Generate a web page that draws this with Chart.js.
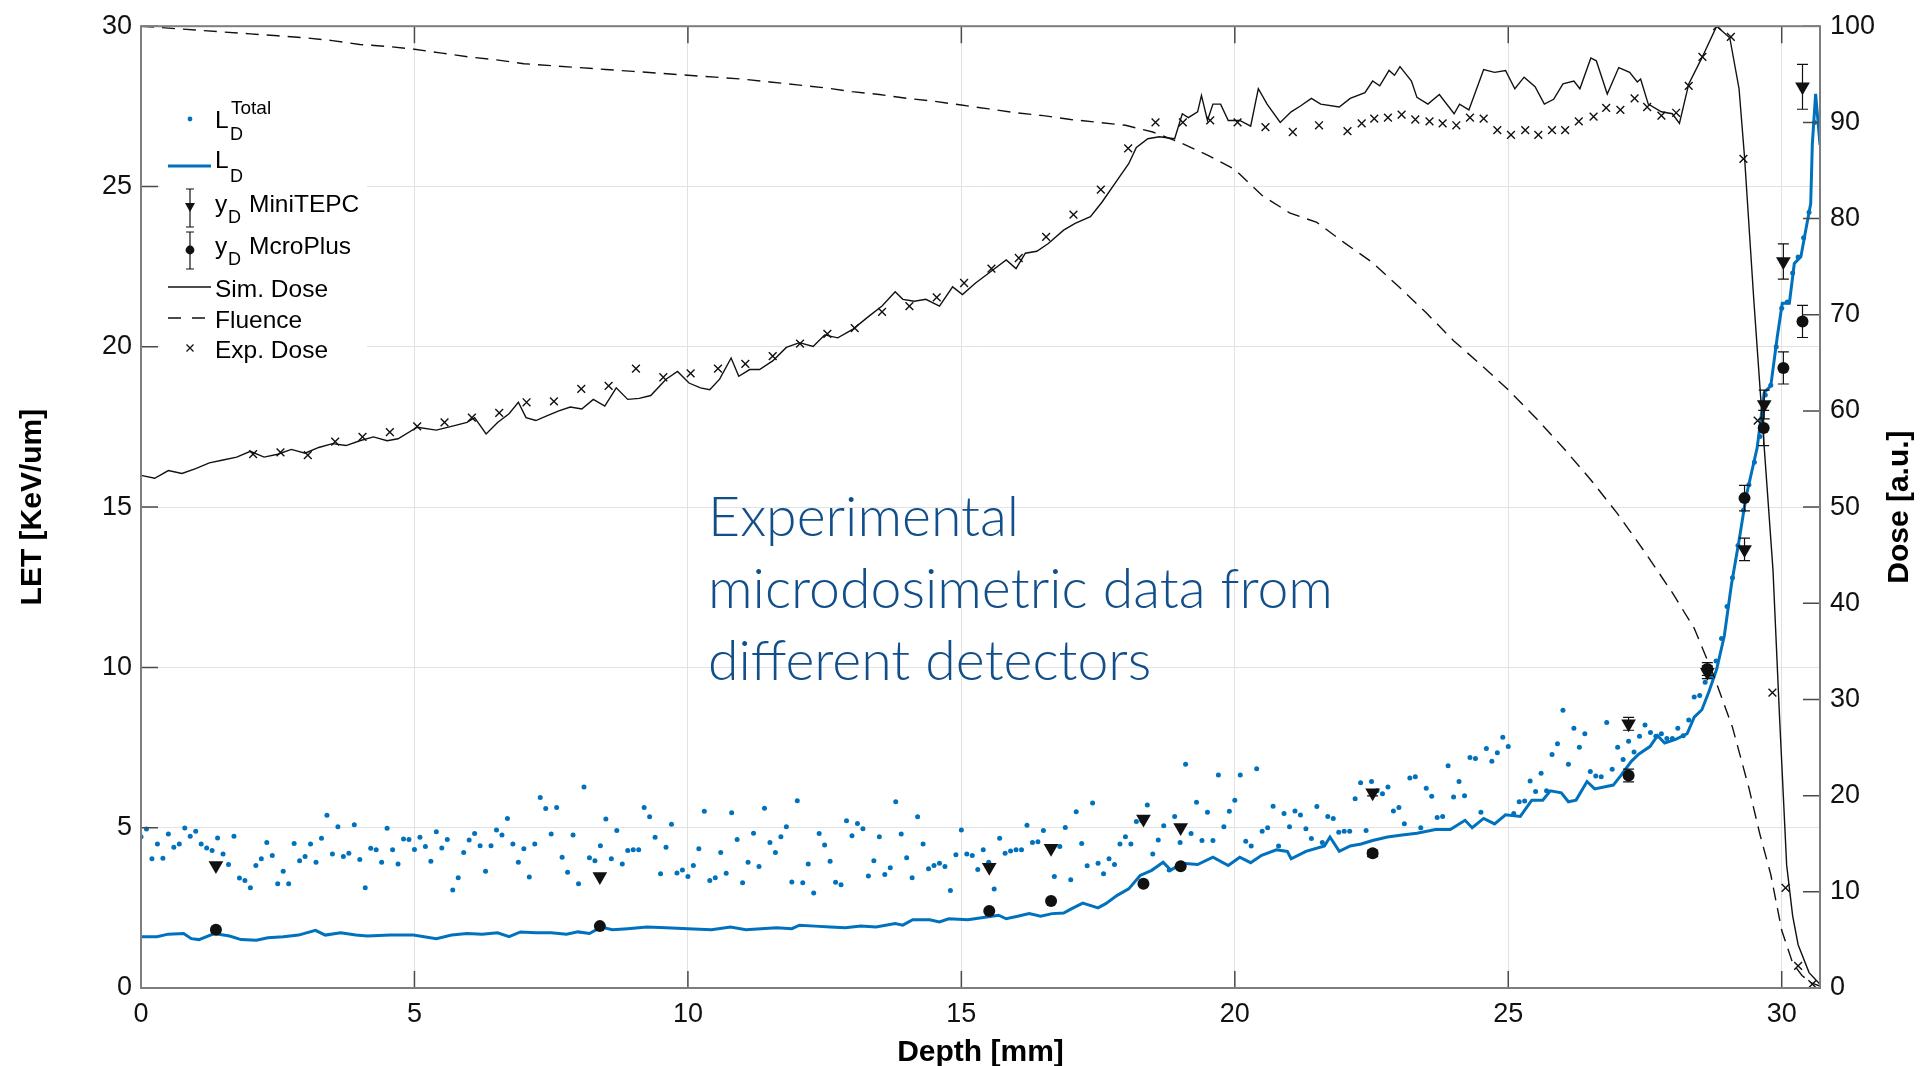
<!DOCTYPE html>
<html>
<head>
<meta charset="utf-8">
<script src="https://cdn.jsdelivr.net/npm/chart.js@4.4.1/dist/chart.umd.min.js"></script>
<style>
html,body{margin:0;padding:0;background:#fff;}
#wrap{position:relative;width:1924px;height:1066px;overflow:hidden;}
#c{position:absolute;left:0;top:0;}
#note{position:absolute;left:708px;top:479px;font-family:Lato,"Open Sans",sans-serif;font-weight:300;font-size:55.4px;line-height:72px;color:#124f8a;white-space:nowrap;}
</style>
</head>
<body>
<div id="wrap">
<canvas id="c" width="1924" height="1066" style="width:1924px;height:1066px"></canvas>
<div id="note">Experimental<br>microdosimetric data from<br>different detectors</div>
</div>
<script>
// ---------- tick labels ----------
const depthTicks = [0,5,10,15,20,25,30];
const letTicks = [0,5,10,15,20,25,30];
const doseTicks = [0,10,20,30,40,50,60,70,80,90,100];

// ---------- L_D^Total (scatter, left axis) ----------
const letTotalDepth = [
0.0,0.1,0.2,0.3,0.4,0.5,0.6,0.7,0.8,0.9,
1.0,1.1,1.2,1.3,1.4,1.5,1.6,1.7,1.8,1.9,
2.0,2.1,2.2,2.3,2.4,2.5,2.6,2.7,2.8,2.9,
3.0,3.1,3.2,3.3,3.4,3.5,3.6,3.7,3.8,3.9,
4.0,4.1,4.2,4.3,4.4,4.5,4.6,4.7,4.8,4.9,
5.0,5.1,5.2,5.3,5.4,5.5,5.6,5.7,5.8,5.9,
6.0,6.1,6.2,6.3,6.4,6.5,6.6,6.7,6.8,6.9,
7.0,7.1,7.2,7.3,7.4,7.5,7.6,7.7,7.8,7.9,
8.0,8.1,8.2,8.3,8.4,8.5,8.6,8.7,8.8,8.9,
9.0,9.1,9.2,9.3,9.4,9.5,9.6,9.7,9.8,9.9,
10.0,10.1,10.2,10.3,10.4,10.5,10.6,10.7,10.8,10.9,
11.0,11.1,11.2,11.3,11.4,11.5,11.6,11.7,11.8,11.9,
12.0,12.1,12.2,12.3,12.4,12.5,12.6,12.7,12.8,12.9,
13.0,13.1,13.2,13.3,13.4,13.5,13.6,13.7,13.8,13.9,
14.0,14.1,14.2,14.3,14.4,14.5,14.6,14.7,14.8,14.9,
15.0,15.1,15.2,15.3,15.4,15.5,15.6,15.7,15.8,15.9,
16.0,16.1,16.2,16.3,16.4,16.5,16.6,16.7,16.8,16.9,
17.0,17.1,17.2,17.3,17.4,17.5,17.6,17.7,17.8,17.9,
18.0,18.1,18.2,18.3,18.4,18.5,18.6,18.7,18.8,18.9,
19.0,19.1,19.2,19.3,19.4,19.5,19.6,19.7,19.8,19.9,
20.0,20.1,20.2,20.3,20.4,20.5,20.6,20.7,20.8,20.9,
21.0,21.1,21.2,21.3,21.4,21.5,21.6,21.7,21.8,21.9,
22.0,22.1,22.2,22.3,22.4,22.5,22.6,22.7,22.8,22.9,
23.0,23.1,23.2,23.3,23.4,23.5,23.6,23.7,23.8,23.9,
24.0,24.1,24.2,24.3,24.4,24.5,24.6,24.7,24.8,24.9,
25.0,25.1,25.2,25.3,25.4,25.5,25.6,25.7,25.8,25.9,
26.0,26.1,26.2,26.3,26.4,26.5,26.6,26.7,26.8,26.9,
27.0,27.1,27.2,27.3,27.4,27.5,27.6,27.7,27.8,27.9,
28.0,28.1,28.2,28.3,28.4,28.5,28.6,28.7,28.8,28.9,
29.0,29.1,29.2,29.3,29.4,29.5,29.6,29.7,29.8,29.9,
30.0,30.1,30.2,30.3,30.4,30.5,30.6];
const letTotal = [
4.72,4.96,4.03,4.49,4.05,4.80,4.39,4.49,4.99,4.73,
4.89,4.49,4.37,4.29,4.68,4.18,3.85,4.73,3.43,3.35,
3.13,3.82,4.03,4.54,4.13,3.25,3.64,3.25,4.51,3.97,
4.10,4.49,3.92,4.67,5.39,4.18,5.03,4.10,4.20,5.09,
4.01,3.13,4.36,4.31,3.92,4.98,4.31,3.87,4.65,4.63,
4.32,4.70,4.41,3.95,4.87,4.37,4.63,3.06,3.44,4.23,
4.62,4.82,4.44,3.64,4.44,4.93,4.77,5.29,4.49,3.92,
4.34,3.46,4.49,5.94,5.60,4.80,5.63,4.08,3.61,4.77,
3.25,6.27,4.06,3.97,4.44,5.27,4.03,4.91,3.87,4.29,
4.31,4.31,5.63,5.34,4.70,3.56,4.39,5.11,3.59,3.68,
3.48,3.82,4.34,5.51,3.35,3.44,4.23,3.58,5.47,4.63,
3.28,3.92,4.83,3.79,5.61,4.54,4.23,4.72,5.03,3.31,
5.84,3.28,3.87,2.96,4.82,4.46,3.95,3.30,3.22,5.22,
4.75,5.13,4.97,3.49,3.97,4.72,3.54,3.75,5.81,4.80,
4.06,3.44,5.34,4.49,3.72,3.82,3.89,3.79,3.04,4.16,
4.93,4.18,4.13,3.70,4.31,3.92,3.09,4.67,4.20,4.27,
4.31,4.31,5.08,4.54,4.56,4.91,4.41,3.48,4.41,5.01,
3.38,5.50,4.51,3.81,5.77,3.89,3.56,4.03,3.85,4.49,
4.72,4.49,5.19,5.22,5.71,4.18,4.62,5.06,3.68,5.35,
4.54,6.98,4.82,5.79,4.60,5.48,4.60,6.64,5.03,5.51,
5.86,6.64,4.58,4.43,6.84,4.89,5.00,5.67,4.43,5.44,
5.03,5.52,5.40,4.97,4.66,5.66,4.54,5.35,5.29,4.86,
4.89,4.89,5.90,6.40,4.91,6.44,6.15,6.06,6.27,5.52,
5.63,5.12,6.55,6.59,5.00,6.23,5.98,5.32,5.35,6.93,
5.96,6.44,6.00,7.19,7.16,5.48,7.47,7.07,7.34,7.82,
7.53,5.44,5.81,5.83,6.46,6.13,6.70,6.15,7.28,7.62,
8.66,6.98,8.10,7.51,7.93,6.75,6.61,6.59,8.28,6.82,
7.51,7.13,7.70,7.36,7.85,8.20,7.97,7.85,7.93,7.78,
7.78,8.10,7.87,8.36,9.08,9.12,9.54,9.74,10.2,10.9,
11.9,12.8,13.8,14.9,15.7,16.4,17.2,18.5,18.8,20.0,
21.2,21.4,22.3,22.8,23.4,24.2,27.0];

// ---------- L_D (line, left axis) ----------
const ldDepth = [
0,0.29,0.5,0.78,0.92,1.06,1.34,1.62,1.83,2.11,
2.32,2.6,2.88,3.19,3.37,3.65,3.93,4.14,4.56,4.98,
5.4,5.68,5.96,6.24,6.52,6.73,6.94,7.22,7.5,7.78,
7.99,8.2,8.41,8.62,8.9,9.25,9.6,10.0,10.43,10.78,
11.06,11.34,11.62,11.9,12.04,12.32,12.6,12.88,13.16,13.44,
13.79,13.93,14.11,14.42,14.6,14.77,15.12,15.4,15.68,15.82,
16.03,16.24,16.45,16.66,16.87,17.01,17.22,17.5,17.64,17.85,
18.06,18.27,18.48,18.69,18.83,19.04,19.32,19.6,19.88,20.09,
20.29,20.49,20.76,20.96,21.03,21.3,21.64,21.74,21.91,22.11,
22.31,22.52,22.79,23.06,23.33,23.67,23.94,24.21,24.34,24.55,
24.75,24.95,25.22,25.43,25.63,25.77,25.97,26.1,26.24,26.44,
26.58,26.92,27.05,27.25,27.39,27.59,27.73,27.86,28.07,28.27,
28.4,28.54,28.67,28.81,28.95,29.08,29.22,29.35,29.55,29.68,
29.8,29.92,30.01,30.14,30.23,30.35,30.44,30.53,30.56,30.62,
30.7];
const ldValue = [
1.60,1.60,1.68,1.70,1.54,1.51,1.70,1.62,1.51,1.49,
1.57,1.60,1.65,1.80,1.65,1.72,1.65,1.62,1.65,1.65,
1.54,1.65,1.70,1.68,1.72,1.60,1.75,1.72,1.72,1.68,
1.75,1.70,1.90,1.82,1.85,1.90,1.88,1.85,1.82,1.90,
1.82,1.85,1.88,1.85,1.96,1.93,1.90,1.88,1.93,1.90,
2.01,1.96,2.13,2.13,2.06,2.16,2.13,2.20,2.27,2.16,
2.24,2.32,2.24,2.32,2.34,2.47,2.65,2.50,2.63,2.89,
3.09,3.51,3.67,3.92,3.68,3.89,3.85,4.08,3.82,4.08,
3.91,4.14,4.31,4.26,4.03,4.26,4.43,4.71,4.26,4.43,
4.49,4.60,4.71,4.77,4.83,4.94,4.94,5.23,5.00,5.29,
5.12,5.40,5.35,5.86,5.86,6.15,6.09,5.81,5.86,6.44,
6.21,6.33,6.61,7.07,7.30,7.53,7.87,7.64,7.76,7.93,
8.45,8.68,9.25,9.94,10.98,12.58,13.96,15.34,16.84,18.57,
18.78,20.33,21.36,21.36,22.60,22.81,23.64,24.47,26.33,27.89,
26.30];

// ---------- y_D MiniTEPC (left axis) ----------
const tepcDepth = [1.37,8.39,15.51,16.64,18.33,19.01,22.52,27.2,28.64,29.32,29.68,30.03,30.38];
const tepcYD    = [3.82,3.48,3.77,4.36,5.27,5.01,6.09,8.24,9.85,13.68,18.2,22.66,28.11];
const tepcErr   = [0,0,0,0,0,0,0.1,0.2,0.2,0.35,0.45,0.55,0.7];

// ---------- y_D MicroPlus (left axis) ----------
const mpDepth = [1.37,8.39,15.51,16.64,18.33,19.01,22.52,27.2,28.64,29.32,29.67,30.03,30.38];
const mpYD    = [1.82,1.93,2.40,2.71,3.25,3.80,4.20,6.63,9.95,15.28,17.47,19.34,20.79];
const mpErr   = [0,0,0,0,0,0,0.1,0.2,0.2,0.4,0.55,0.5,0.5];

// ---------- Sim. Dose (right axis) ----------
const simDepth = [
0,0.25,0.5,0.75,1,1.25,1.5,1.75,2,2.25,
2.5,2.75,3,3.25,3.5,3.75,4,4.25,4.5,4.7,
5.05,5.4,5.75,5.96,6.1,6.31,6.52,6.73,6.9,7.04,
7.22,7.43,7.64,7.85,8.06,8.27,8.48,8.69,8.9,9.11,
9.32,9.6,9.81,10.02,10.23,10.4,10.58,10.79,10.93,11.13,
11.31,11.55,11.8,12.04,12.29,12.5,12.74,13.02,13.3,13.55,
13.79,13.93,14.14,14.35,14.6,14.84,15.02,15.26,15.54,15.82,
16.0,16.17,16.38,16.59,16.87,17.08,17.36,17.57,17.85,18.06,
18.2,18.41,18.62,18.9,19.04,19.15,19.32,19.39,19.5,19.6,
19.74,19.88,20.09,20.29,20.43,20.59,20.83,21.03,21.2,21.4,
21.57,21.91,22.11,22.38,22.52,22.65,22.82,22.92,23.02,23.23,
23.33,23.53,23.74,24.01,24.11,24.28,24.55,24.75,24.95,25.12,
25.29,25.49,25.66,25.83,26.0,26.2,26.31,26.51,26.61,26.81,
27.02,27.22,27.36,27.42,27.56,27.8,28.0,28.13,28.3,28.54,
28.81,29.05,29.22,29.32,29.49,29.65,29.84,29.96,30.09,30.2,
30.3,30.5,30.7];
const simDose = [
53.3,53.0,53.8,53.5,54.0,54.6,54.9,55.2,55.8,55.2,
55.5,56.0,55.6,56.2,56.6,56.4,56.9,57.3,56.9,57.1,
58.3,58.0,58.5,58.8,59.3,57.6,58.8,59.7,60.9,59.3,
59.0,59.5,60.0,60.4,60.2,61.2,60.5,62.4,61.2,61.3,
61.6,63.3,64.1,62.9,62.4,62.2,63.3,65.5,63.6,64.3,
64.3,65.2,66.6,67.1,66.7,67.9,67.6,68.5,69.8,70.9,
72.4,71.6,71.4,71.6,70.9,72.9,72.1,73.3,74.5,75.7,
74.8,76.4,76.6,77.4,78.8,79.5,80.2,81.7,84.0,85.7,
87.4,88.3,88.5,88.3,90.9,90.5,91.1,92.8,90.2,91.9,
91.9,90.2,90.2,89.6,93.5,91.9,90.0,91.1,91.7,92.5,
91.9,91.6,92.5,93.1,94.3,93.8,95.4,94.9,95.8,94.3,
92.6,91.9,92.9,90.9,91.9,91.3,95.5,95.2,95.4,93.5,
94.7,93.7,91.9,92.4,94.0,94.3,93.5,96.7,96.4,92.95,
95.7,95.2,94.2,94.5,91.9,91.1,90.9,89.9,94.0,96.7,
100,98.8,93.5,86.4,71.5,58.6,43.5,28.2,12.8,7.5,
4.5,1.6,0.4];

// ---------- Fluence (right axis) ----------
const fluDepth = [
0,0.5,1,1.5,2,2.5,3,3.5,4,4.5,
5,5.5,6,6.5,7,7.5,8,8.5,9,9.5,
10,10.5,11,11.5,12,12.5,13,13.5,14,14.5,
15,15.5,16,16.5,17,17.5,18,18.5,19,19.5,
20,20.5,21,21.5,22,22.5,23,23.5,24,24.5,
25,25.5,26,26.5,27,27.5,28,
28.4,28.75,29.1,29.4,29.6,29.8,30.0,30.2,30.37,30.55,30.7];
const fluence = [
100,99.8,99.6,99.4,99.2,99.0,98.8,98.5,98.1,97.9,
97.6,97.2,96.8,96.5,96.1,95.9,95.7,95.5,95.3,95.1,
94.9,94.7,94.5,94.2,93.9,93.6,93.2,92.9,92.5,92.2,
91.8,91.4,91.0,90.7,90.3,90.0,89.7,89.0,87.9,86.6,
85.1,82.4,80.6,79.6,77.5,75.5,72.9,70.2,67.3,64.8,
62.2,59.3,56.2,52.9,49.3,45.3,41.1,
37.4,32.6,27.1,20.8,16.0,11.8,6.0,2.6,1.3,0.5,0.2];

// ---------- Exp. Dose (right axis) ----------
const expDepth = [
2.05,2.55,3.05,3.55,4.05,4.55,5.05,5.55,6.05,6.55,
7.05,7.55,8.05,8.55,9.05,9.55,10.05,10.55,11.05,11.55,
12.05,12.55,13.05,13.55,14.05,14.55,15.05,15.55,16.05,16.55,
17.05,17.55,18.05,18.55,19.05,19.55,20.05,20.56,21.06,21.54,
22.06,22.32,22.55,22.8,23.05,23.3,23.56,23.8,24.05,24.3,
24.55,24.8,25.05,25.31,25.55,25.8,26.04,26.29,26.56,26.79,
27.05,27.31,27.54,27.8,28.07,28.3,28.55,28.82,29.07,29.3,
29.56,29.83,30.07,30.3,30.56];
const expDose = [
55.5,55.7,55.4,56.8,57.3,57.8,58.4,58.8,59.3,59.8,
60.9,61.0,62.3,62.6,64.4,63.5,63.9,64.4,64.9,65.7,
67.0,68.0,68.6,70.3,70.9,71.8,73.3,74.8,75.9,78.1,
80.4,83.0,87.3,90.0,90.0,90.2,90.0,89.5,89.0,89.7,
89.1,89.9,90.4,90.5,90.8,90.3,90.1,89.9,89.7,90.5,
90.4,89.2,88.7,89.2,88.7,89.2,89.2,90.1,90.6,91.5,
91.3,92.5,91.6,90.7,91.0,93.8,96.8,100,98.9,86.2,
59.0,30.7,10.4,2.3,0.4];

// ---------- styling ----------
const FONT = '"Liberation Sans", Arial, Helvetica, sans-serif';
const BLUE = '#0072BD';
const INK = '#111111';
Chart.defaults.font.family = FONT;

function pts(xs, ys) { return xs.map((x, i) => ({x: x, y: ys[i]})); }

const errorBars = [
  {depth: tepcDepth, val: tepcYD, err: tepcErr},
  {depth: mpDepth, val: mpYD, err: mpErr}
];

const errorBarPlugin = {
  id: 'errorBars',
  afterDatasetsDraw(chart) {
    const {ctx, chartArea: a, scales} = chart;
    ctx.save();
    ctx.beginPath();
    ctx.rect(a.left, a.top, a.right - a.left, a.bottom - a.top);
    ctx.clip();
    ctx.strokeStyle = INK;
    ctx.lineWidth = 1.2;
    errorBars.forEach(s => {
      s.depth.forEach((d, i) => {
        if (!s.err[i]) return;
        const x = scales.x.getPixelForValue(d);
        const yt = scales.y.getPixelForValue(s.val[i] + s.err[i]);
        const yb = scales.y.getPixelForValue(s.val[i] - s.err[i]);
        ctx.beginPath();
        ctx.moveTo(x, yt); ctx.lineTo(x, yb);
        ctx.moveTo(x - 5.5, yt); ctx.lineTo(x + 5.5, yt);
        ctx.moveTo(x - 5.5, yb); ctx.lineTo(x + 5.5, yb);
        ctx.stroke();
      });
    });
    ctx.restore();
  }
};

function drawLegend(ctx) {
  ctx.save();
  ctx.fillStyle = '#fff';
  ctx.fillRect(160, 92, 207, 280);
  ctx.textAlign = 'left';
  ctx.textBaseline = 'alphabetic';
  const big = '24.5px ' + FONT;
  const sup = '19px ' + FONT;
  const sub = '18px ' + FONT;
  const mx = 190;
  // L_D^Total
  ctx.fillStyle = BLUE;
  ctx.beginPath(); ctx.arc(mx, 119, 2.4, 0, Math.PI * 2); ctx.fill();
  ctx.fillStyle = '#000';
  ctx.font = big; ctx.fillText('L', 215, 128);
  ctx.font = sup; ctx.fillText('Total', 231, 114);
  ctx.font = sub; ctx.fillText('D', 230, 140);
  // L_D
  ctx.strokeStyle = BLUE; ctx.lineWidth = 3;
  ctx.beginPath(); ctx.moveTo(168, 166); ctx.lineTo(211, 166); ctx.stroke();
  ctx.font = big; ctx.fillText('L', 215, 168);
  ctx.font = sub; ctx.fillText('D', 230, 182);
  // y_D MiniTEPC
  ctx.strokeStyle = INK; ctx.lineWidth = 1.2;
  ctx.beginPath();
  ctx.moveTo(mx, 189); ctx.lineTo(mx, 227);
  ctx.moveTo(mx - 4, 189); ctx.lineTo(mx + 4, 189);
  ctx.moveTo(mx - 4, 227); ctx.lineTo(mx + 4, 227);
  ctx.stroke();
  ctx.fillStyle = INK;
  ctx.beginPath(); ctx.moveTo(mx - 5, 203); ctx.lineTo(mx + 5, 203); ctx.lineTo(mx, 212); ctx.closePath(); ctx.fill();
  ctx.fillStyle = '#000';
  ctx.font = big; ctx.fillText('y', 215, 212);
  ctx.font = sub; ctx.fillText('D', 228, 223);
  ctx.font = big; ctx.fillText('MiniTEPC', 249, 212);
  // y_D McroPlus
  ctx.beginPath();
  ctx.moveTo(mx, 232); ctx.lineTo(mx, 269);
  ctx.moveTo(mx - 4, 232); ctx.lineTo(mx + 4, 232);
  ctx.moveTo(mx - 4, 269); ctx.lineTo(mx + 4, 269);
  ctx.stroke();
  ctx.fillStyle = INK;
  ctx.beginPath(); ctx.arc(mx, 250, 4.4, 0, Math.PI * 2); ctx.fill();
  ctx.fillStyle = '#000';
  ctx.font = big; ctx.fillText('y', 215, 254);
  ctx.font = sub; ctx.fillText('D', 228, 265);
  ctx.font = big; ctx.fillText('McroPlus', 249, 254);
  // Sim. Dose
  ctx.lineWidth = 1.3;
  ctx.beginPath(); ctx.moveTo(168, 287); ctx.lineTo(211, 287); ctx.stroke();
  ctx.fillText('Sim. Dose', 215, 297);
  // Fluence
  ctx.beginPath();
  ctx.moveTo(168, 318); ctx.lineTo(181, 318);
  ctx.moveTo(192, 318); ctx.lineTo(205, 318);
  ctx.stroke();
  ctx.fillText('Fluence', 215, 328);
  // Exp. Dose
  ctx.lineWidth = 1.3;
  ctx.beginPath();
  ctx.moveTo(mx - 3.5, 344.5); ctx.lineTo(mx + 3.5, 351.5);
  ctx.moveTo(mx + 3.5, 344.5); ctx.lineTo(mx - 3.5, 351.5);
  ctx.stroke();
  ctx.fillText('Exp. Dose', 215, 358);
  ctx.restore();
}

const framePlugin = {
  id: 'frame',
  afterDraw(chart) {
    const {ctx, chartArea: a, scales} = chart;
    drawLegend(ctx);
    ctx.save();
    const TL = 17;
    ctx.strokeStyle = '#4a4a4a';
    ctx.lineWidth = 1.5;
    ctx.beginPath();
    depthTicks.forEach(v => {
      const x = scales.x.getPixelForValue(v);
      ctx.moveTo(x, a.bottom); ctx.lineTo(x, a.bottom - TL);
      ctx.moveTo(x, a.top); ctx.lineTo(x, a.top + TL);
    });
    letTicks.forEach(v => {
      const y = scales.y.getPixelForValue(v);
      ctx.moveTo(a.left, y); ctx.lineTo(a.left + TL, y);
    });
    doseTicks.forEach(v => {
      const y = scales.y1.getPixelForValue(v);
      ctx.moveTo(a.right, y); ctx.lineTo(a.right - TL, y);
    });
    ctx.stroke();
    ctx.strokeStyle = '#7d7d7d';
    ctx.lineWidth = 2;
    ctx.strokeRect(a.left, a.top, a.right - a.left, a.bottom - a.top);
    // right axis title (reads bottom to top)
    ctx.translate(1900, (a.top + a.bottom) / 2);
    ctx.rotate(-Math.PI / 2);
    ctx.fillStyle = '#000';
    ctx.font = 'bold 30px ' + FONT;
    ctx.textAlign = 'center';
    ctx.textBaseline = 'middle';
    ctx.fillText('Dose [a.u.]', 0, 0);
    ctx.restore();
  }
};

const tickFont = {family: FONT, size: 27};
const titleFont = {family: FONT, size: 30, weight: 'bold', lineHeight: 1};

new Chart(document.getElementById('c'), {
  type: 'scatter',
  data: {
    datasets: [
      {label: 'Exp. Dose', data: pts(expDepth, expDose), yAxisID: 'y1', pointStyle: 'crossRot',
       pointRadius: 5.5, borderColor: INK, backgroundColor: INK, borderWidth: 1.4, order: 1},
      {label: 'Fluence', data: pts(fluDepth, fluence), yAxisID: 'y1', showLine: true, pointRadius: 0,
       borderColor: INK, borderWidth: 1.4, borderDash: [13, 8], order: 2},
      {label: 'Sim. Dose', data: pts(simDepth, simDose), yAxisID: 'y1', showLine: true, pointRadius: 0,
       borderColor: INK, borderWidth: 1.4, order: 3},
      {label: 'yD McroPlus', data: pts(mpDepth, mpYD), yAxisID: 'y', pointStyle: 'circle',
       pointRadius: 6, borderColor: INK, backgroundColor: INK, borderWidth: 0, order: 4},
      {label: 'yD MiniTEPC', data: pts(tepcDepth, tepcYD), yAxisID: 'y', pointStyle: 'triangle',
       rotation: 180, pointRadius: 8.5, borderColor: INK, backgroundColor: INK, borderWidth: 0, order: 5},
      {label: 'LD', data: pts(ldDepth, ldValue), yAxisID: 'y', showLine: true, pointRadius: 0,
       borderColor: BLUE, borderWidth: 3, order: 6},
      {label: 'LD Total', data: pts(letTotalDepth, letTotal), yAxisID: 'y', pointStyle: 'circle',
       pointRadius: 2.5, borderWidth: 0, backgroundColor: BLUE, borderColor: BLUE, order: 7}
    ]
  },
  options: {
    responsive: false,
    animation: false,
    devicePixelRatio: 1,
    events: [],
    layout: {padding: {top: 22, left: 0, right: 0, bottom: 0}},
    plugins: {legend: {display: false}, tooltip: {enabled: false}},
    scales: {
      x: {
        type: 'linear', position: 'bottom', min: 0, max: 30.7,
        afterBuildTicks: s => { s.ticks = depthTicks.map(v => ({value: v})); },
        afterFit: s => { s.height = 78; },
        ticks: {font: tickFont, color: INK, padding: 10, autoSkip: false, maxRotation: 0,
                callback: v => String(v)},
        grid: {color: '#e2e2e2', lineWidth: 1, drawTicks: false},
        border: {display: false},
        title: {display: true, text: 'Depth [mm]', font: titleFont, color: '#000', padding: {top: 0, bottom: -2}}
      },
      y: {
        type: 'linear', position: 'left', min: 0, max: 30,
        afterBuildTicks: s => { s.ticks = letTicks.map(v => ({value: v})); },
        afterFit: s => { s.width = 141; },
        ticks: {font: tickFont, color: INK, padding: 9, autoSkip: false, callback: v => String(v)},
        grid: {color: '#e2e2e2', lineWidth: 1, drawTicks: false},
        border: {display: false},
        title: {display: true, text: 'LET [KeV/um]', font: titleFont, color: '#000', padding: {top: 18, bottom: 0}}
      },
      y1: {
        type: 'linear', position: 'right', min: 0, max: 100,
        afterBuildTicks: s => { s.ticks = doseTicks.map(v => ({value: v})); },
        afterFit: s => { s.width = 104; },
        ticks: {font: tickFont, color: INK, padding: 10, autoSkip: false, callback: v => String(v)},
        grid: {drawOnChartArea: false, drawTicks: false},
        border: {display: false}
      }
    }
  },
  plugins: [errorBarPlugin, framePlugin]
});
</script>
</body>
</html>
